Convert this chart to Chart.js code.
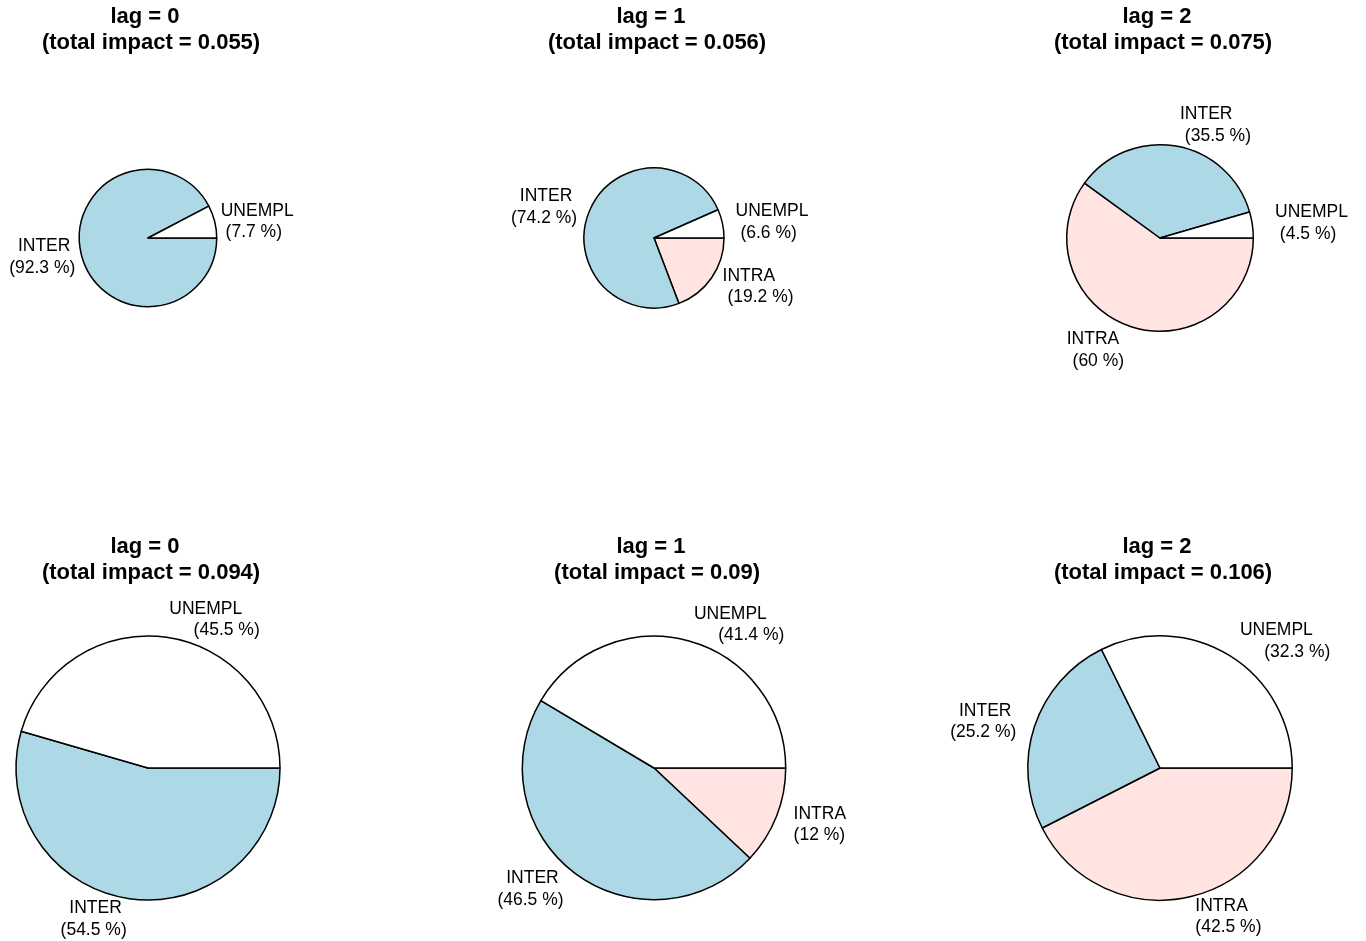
<!DOCTYPE html>
<html lang="en">
  <head>
    <meta charset="UTF-8" />
    <meta name="viewport" content="width=device-width, initial-scale=1.0" />
    <title>Impact shares by lag</title>
    <style>
      html,
      body {
        margin: 0;
        padding: 0;
        background-color: #ffffff;
      }
      body {
        position: relative;
        width: 1366px;
        height: 941px;
        overflow: hidden;
      }
      canvas {
        position: absolute;
      }
    </style>
    <script src="https://cdn.jsdelivr.net/npm/chart.js"></script>
  </head>
  <body>
    <script>
      const categories = ["UNEMPL", "INTER", "INTRA"];
      const lags = [0, 1, 2, 0, 1, 2];
      const totalImpact = [0.055, 0.056, 0.075, 0.094, 0.09, 0.106];
      const unemplShare = [7.7, 6.6, 4.5, 45.5, 41.4, 32.3];
      const interShare = [92.3, 74.2, 35.5, 54.5, 46.5, 25.2];
      const intraShare = [0, 19.2, 60, 0, 12, 42.5];
      const sliceColors = { UNEMPL: "#ffffff", INTER: "#add8e6", INTRA: "#ffe4e1" };

      // page placement of each pie (2 x 3 grid), radius in px,
      // label distance as a multiple of the radius, spaces before the % line
      const panels = [
        { cx: 148, cy: 238, r: 68.7, labelAt: 1.09, lead: { UNEMPL: 1, INTER: 1, INTRA: 1 } },
        { cx: 654, cy: 238, r: 70, labelAt: 1.19, lead: { UNEMPL: 1, INTER: 1, INTRA: 1 } },
        { cx: 1160, cy: 238, r: 93.3, labelAt: 1.245, lead: { UNEMPL: 1, INTER: 1, INTRA: 1 } },
        { cx: 148, cy: 768, r: 132, labelAt: 1.145, lead: { UNEMPL: 5, INTER: 0, INTRA: 0 } },
        { cx: 654, cy: 768, r: 131.7, labelAt: 1.14, lead: { UNEMPL: 5, INTER: 0, INTRA: 0 } },
        { cx: 1160, cy: 768, r: 132.2, labelAt: 1.145, lead: { UNEMPL: 5, INTER: 0, INTRA: 0 } }
      ];

      const W = 440;
      const H = 500;

      // titles and slice labels, placed like R's pie()
      const pieText = {
        id: "pieText",
        afterDraw(chart, args, opts) {
          const ctx = chart.ctx;
          const meta = chart.getDatasetMeta(0);
          const x0 = meta.data[0].x;
          const y0 = meta.data[0].y;
          ctx.save();
          ctx.fillStyle = "#000000";
          ctx.textBaseline = "alphabetic";

          ctx.font = "bold 22px 'Liberation Sans', Arial, sans-serif";
          ctx.textAlign = "center";
          ctx.fillText("lag = " + opts.lag + " ", x0, y0 - 215);
          ctx.fillText(" (total impact = " + opts.total + ")", x0, y0 - 189);

          ctx.font = "17.5px 'Liberation Sans', Arial, sans-serif";
          meta.data.forEach((arc, i) => {
            const v = chart.data.datasets[0].data[i];
            if (!v) return;
            const name = chart.data.labels[i];
            const mid = (arc.startAngle + arc.endAngle) / 2;
            const d = opts.labelAt * arc.outerRadius;
            const lx = x0 + d * Math.cos(mid);
            const ly = y0 + d * Math.sin(mid);
            ctx.textAlign = Math.cos(mid) < 0 ? "right" : "left";
            ctx.fillText(name + " ", lx, ly - 10.8 + 6.3);
            ctx.fillText(" ".repeat(opts.lead[name]) + "(" + v + " %)", lx, ly + 10.8 + 6.3);
          });
          ctx.restore();
        }
      };

      panels.forEach((p, k) => {
        const canvas = document.createElement("canvas");
        canvas.width = W;
        canvas.height = H;
        canvas.style.width = W + "px";
        canvas.style.height = H + "px";
        canvas.style.left = p.cx - W / 2 + "px";
        canvas.style.top = p.cy - H / 2 + "px";
        document.body.appendChild(canvas);

        // R goes counter-clockwise from 3 o'clock; Chart.js goes clockwise,
        // so start at 3 o'clock and feed the slices in reverse order
        const order = categories.slice().reverse();
        const shares = { UNEMPL: unemplShare[k], INTER: interShare[k], INTRA: intraShare[k] };

        new Chart(canvas, {
          type: "pie",
          data: {
            labels: order,
            datasets: [
              {
                data: order.map((c) => shares[c]),
                backgroundColor: order.map((c) => sliceColors[c]),
                borderColor: "#000000",
                borderWidth: 1.5,
                borderJoinStyle: "round"
              }
            ]
          },
          options: {
            responsive: false,
            animation: false,
            events: [],
            rotation: 90,
            radius: p.r,
            plugins: {
              legend: { display: false },
              tooltip: { enabled: false },
              pieText: { lag: lags[k], total: totalImpact[k], labelAt: p.labelAt, lead: p.lead }
            }
          },
          plugins: [pieText]
        });
      });
    </script>
  </body>
</html>
